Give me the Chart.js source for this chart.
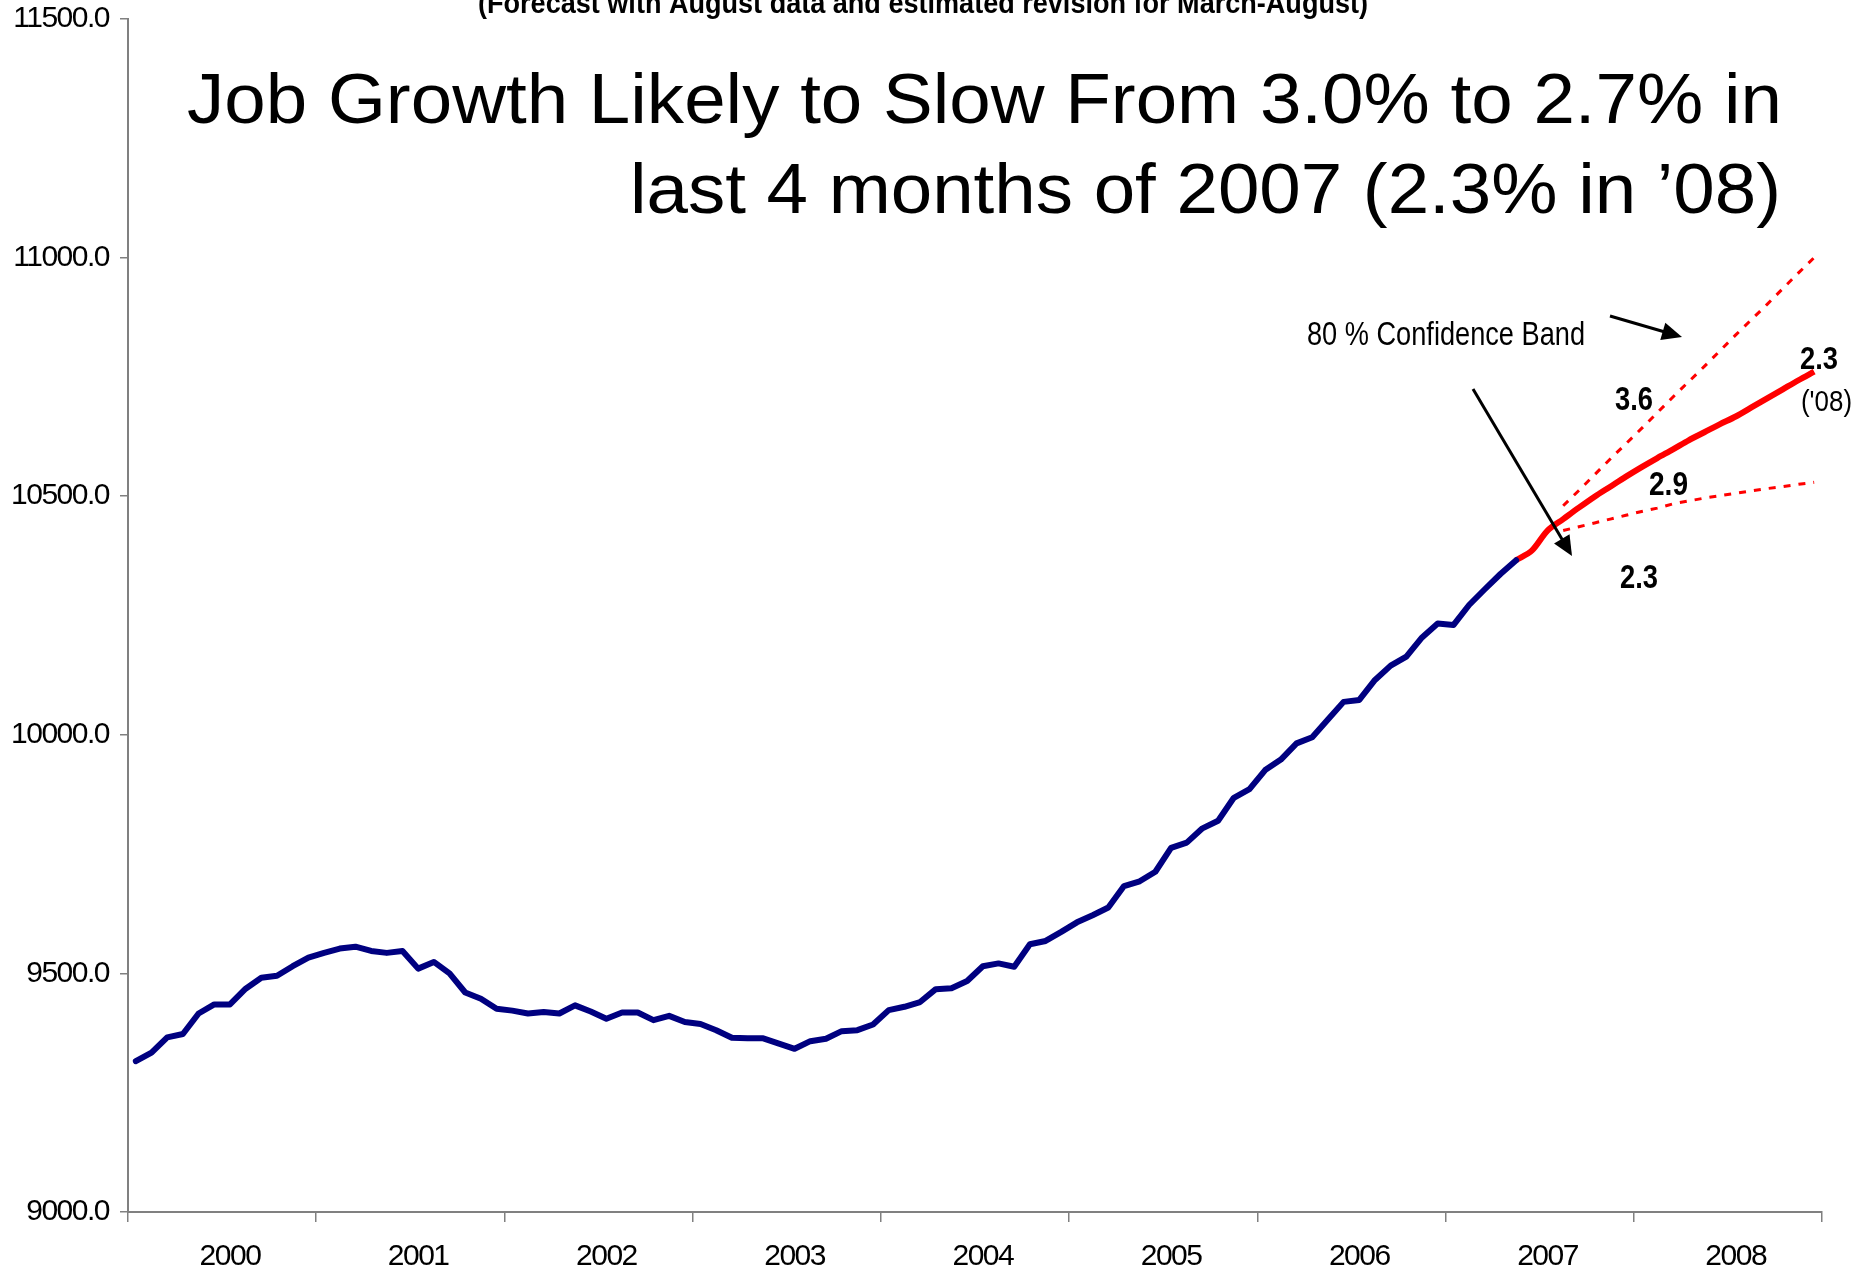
<!DOCTYPE html>
<html>
<head>
<meta charset="utf-8">
<title>Job Growth Forecast</title>
<script src="https://cdn.jsdelivr.net/npm/chart.js@4.4.1/dist/chart.umd.min.js"></script>
<style>
  html, body { margin: 0; padding: 0; background: #fff; }
  canvas { display: block; }
</style>
</head>
<body>
<canvas id="jobsChart" width="1859" height="1273"></canvas>
<script>
// Payroll employment (thousands), monthly from Jan 2000
const years = ["2000", "2001", "2002", "2003", "2004", "2005", "2006", "2007", "2008"];
const yTicks = [9000, 9500, 10000, 10500, 11000, 11500];

// actual data, Jan 2000 - May 2007
const actual = [
  9316, 9334, 9366, 9373, 9416, 9435, 9435, 9468, 9491, 9495, 9515, 9533,
  9543, 9552, 9556, 9547, 9543, 9547, 9510, 9524, 9500, 9460, 9447, 9426,
  9422, 9416, 9419, 9416, 9433, 9420, 9405, 9418, 9418, 9402, 9411, 9398,
  9394, 9381, 9365, 9364, 9364, 9353, 9342, 9358, 9363, 9379, 9381, 9393,
  9423, 9430, 9440, 9467, 9469, 9484, 9515, 9521, 9514, 9561, 9568, 9587,
  9607, 9622, 9638, 9683, 9693, 9713, 9763, 9774, 9804, 9820, 9868, 9886,
  9926, 9948, 9982, 9995, 10032, 10069, 10073, 10115, 10145, 10164, 10204, 10233,
  10230, 10272, 10305, 10337, 10366
];

// revised estimate + forecast, May 2007 - Dec 2008
const forecastStart = 88;
const forecast = [
  10366, 10386, 10428, 10452, 10476, 10499, 10520, 10541, 10561, 10580,
  10598, 10617, 10634, 10651, 10667, 10686, 10705, 10724, 10743, 10761
];

// 80% confidence band, Aug 2007 - Dec 2008
const bandStart = 91;
const bandHigh = [
  10480, 10512, 10545, 10578, 10610, 10642, 10675, 10708, 10740,
  10772, 10805, 10838, 10870, 10902, 10935, 10968, 11000
];
const bandLow = [
  10428, 10436, 10444, 10452, 10460, 10468, 10475, 10484, 10490,
  10496, 10501, 10506, 10511, 10516, 10520, 10525, 10529
];

const months = [];
years.forEach(y => {
  for (let m = 1; m <= 12; m++) months.push(y + "-" + m);
});

function pad(start, values) {
  return Array(start).fill(null).concat(values);
}

const AXIS = "#808080";
const FONT = "Liberation Sans, Arial, sans-serif";

// stretch text so it spans [left, right]; sy makes it a bit taller
function fitText(ctx, text, font, left, right, baseline, sy = 1) {
  ctx.save();
  ctx.font = font;
  ctx.letterSpacing = "0px";
  ctx.textAlign = "left";
  ctx.textBaseline = "alphabetic";
  const w = ctx.measureText(text).width;
  ctx.translate(left, baseline);
  ctx.scale((right - left) / w, sy);
  ctx.fillStyle = "#000";
  ctx.fillText(text, 0, 0);
  ctx.restore();
}

function arrow(ctx, x1, y1, x2, y2) {
  const ang = Math.atan2(y2 - y1, x2 - x1);
  const len = 20, half = 9;
  ctx.save();
  ctx.strokeStyle = "#000";
  ctx.fillStyle = "#000";
  ctx.lineWidth = 3;
  ctx.beginPath();
  ctx.moveTo(x1, y1);
  ctx.lineTo(x2 - Math.cos(ang) * len * 0.8, y2 - Math.sin(ang) * len * 0.8);
  ctx.stroke();
  ctx.beginPath();
  ctx.moveTo(x2, y2);
  ctx.lineTo(x2 - Math.cos(ang) * len - Math.sin(ang) * half, y2 - Math.sin(ang) * len + Math.cos(ang) * half);
  ctx.lineTo(x2 - Math.cos(ang) * len + Math.sin(ang) * half, y2 - Math.sin(ang) * len - Math.cos(ang) * half);
  ctx.closePath();
  ctx.fill();
  ctx.restore();
}

// axis labels are set tight, like a condensed face
const tightText = {
  id: "tightText",
  beforeDraw(chart) { chart.ctx.letterSpacing = "-1.5px"; }
};

const notes = {
  id: "notes",
  afterDraw(chart) {
    const ctx = chart.ctx;
    fitText(ctx, "(Forecast with August data and estimated revision for March-August)",
      "bold 27px " + FONT, 478, 1368, 13, 1.1);
    fitText(ctx, "Job Growth Likely to Slow From 3.0% to 2.7% in", "70px " + FONT, 187, 1782, 123);
    fitText(ctx, "last 4 months of 2007 (2.3% in \u201908)", "70px " + FONT, 630, 1781, 213);

    fitText(ctx, "80 % Confidence Band", "30px " + FONT, 1307, 1585, 345, 1.12);
    arrow(ctx, 1610, 316, 1682, 337);
    arrow(ctx, 1473, 389, 1572, 556);

    fitText(ctx, "3.6", "bold 28px " + FONT, 1615, 1653, 410, 1.18);
    fitText(ctx, "2.9", "bold 28px " + FONT, 1649, 1688, 495, 1.18);
    fitText(ctx, "2.3", "bold 28px " + FONT, 1620, 1658, 588, 1.18);
    fitText(ctx, "2.3", "bold 26px " + FONT, 1800, 1838, 369, 1.18);
    fitText(ctx, "('08)", "26px " + FONT, 1801, 1852, 411, 1.12);
  }
};

const ctx = document.getElementById("jobsChart").getContext("2d");
const jobsChart = new Chart(ctx, {
  type: "line",
  data: {
    labels: months,
    datasets: [
      {
        label: "Actual",
        data: actual,
        borderColor: "#000080",
        borderWidth: 6,
        borderJoinStyle: "round",
        borderCapStyle: "round",
        pointRadius: 0,
        tension: 0,
      },
      {
        label: "Forecast",
        data: pad(forecastStart, forecast),
        borderColor: "#ff0000",
        borderWidth: 6,
        borderJoinStyle: "round",
        pointRadius: 0,
        tension: 0.3,
      },
      {
        label: "Upper band",
        data: pad(bandStart, bandHigh),
        borderColor: "#ff0000",
        borderWidth: 3,
        borderDash: [7, 8],
        pointRadius: 0,
        tension: 0,
      },
      {
        label: "Lower band",
        data: pad(bandStart, bandLow),
        borderColor: "#ff0000",
        borderWidth: 3,
        borderDash: [7, 8],
        pointRadius: 0,
        tension: 0,
      },
    ],
  },
  options: {
    responsive: false,
    animation: false,
    devicePixelRatio: 1,
    layout: { padding: { top: 19, right: 37, left: 0, bottom: 0 } },
    plugins: {
      legend: { display: false },
      tooltip: { enabled: false },
    },
    scales: {
      x: {
        type: "category",
        offset: true,
        border: { color: AXIS, width: 2 },
        grid: {
          drawOnChartArea: false,
          offset: true,
          tickLength: 10,
          lineWidth: 1.5,
          color: c => (c.index === undefined || c.index % 12 === 0) ? AXIS : "rgba(0,0,0,0)",
        },
        ticks: {
          autoSkip: false,
          maxRotation: 0,
          minRotation: 0,
          padding: 17,
          color: "#000",
          font: { family: FONT, size: 30 },
          callback: (v, i) => (i % 12 === 6 ? years[Math.floor(i / 12)] : ""),
        },
        afterFit: s => { s.height = 61; s.paddingLeft = 0; s.paddingRight = 0; },
      },
      y: {
        type: "linear",
        min: yTicks[0],
        max: yTicks[yTicks.length - 1],
        border: { color: AXIS, width: 2 },
        grid: { drawOnChartArea: false, tickLength: 8, lineWidth: 1.5, color: AXIS },
        afterBuildTicks: s => { s.ticks = yTicks.map(v => ({ value: v })); },
        ticks: {
          padding: 11,
          color: "#000",
          font: { family: FONT, size: 30 },
          callback: v => v.toFixed(1),
        },
        afterFit: s => { s.width = 128; s.paddingTop = 0; s.paddingBottom = 0; },
      },
    },
  },
  plugins: [tightText, notes],
});
</script>
</body>
</html>
